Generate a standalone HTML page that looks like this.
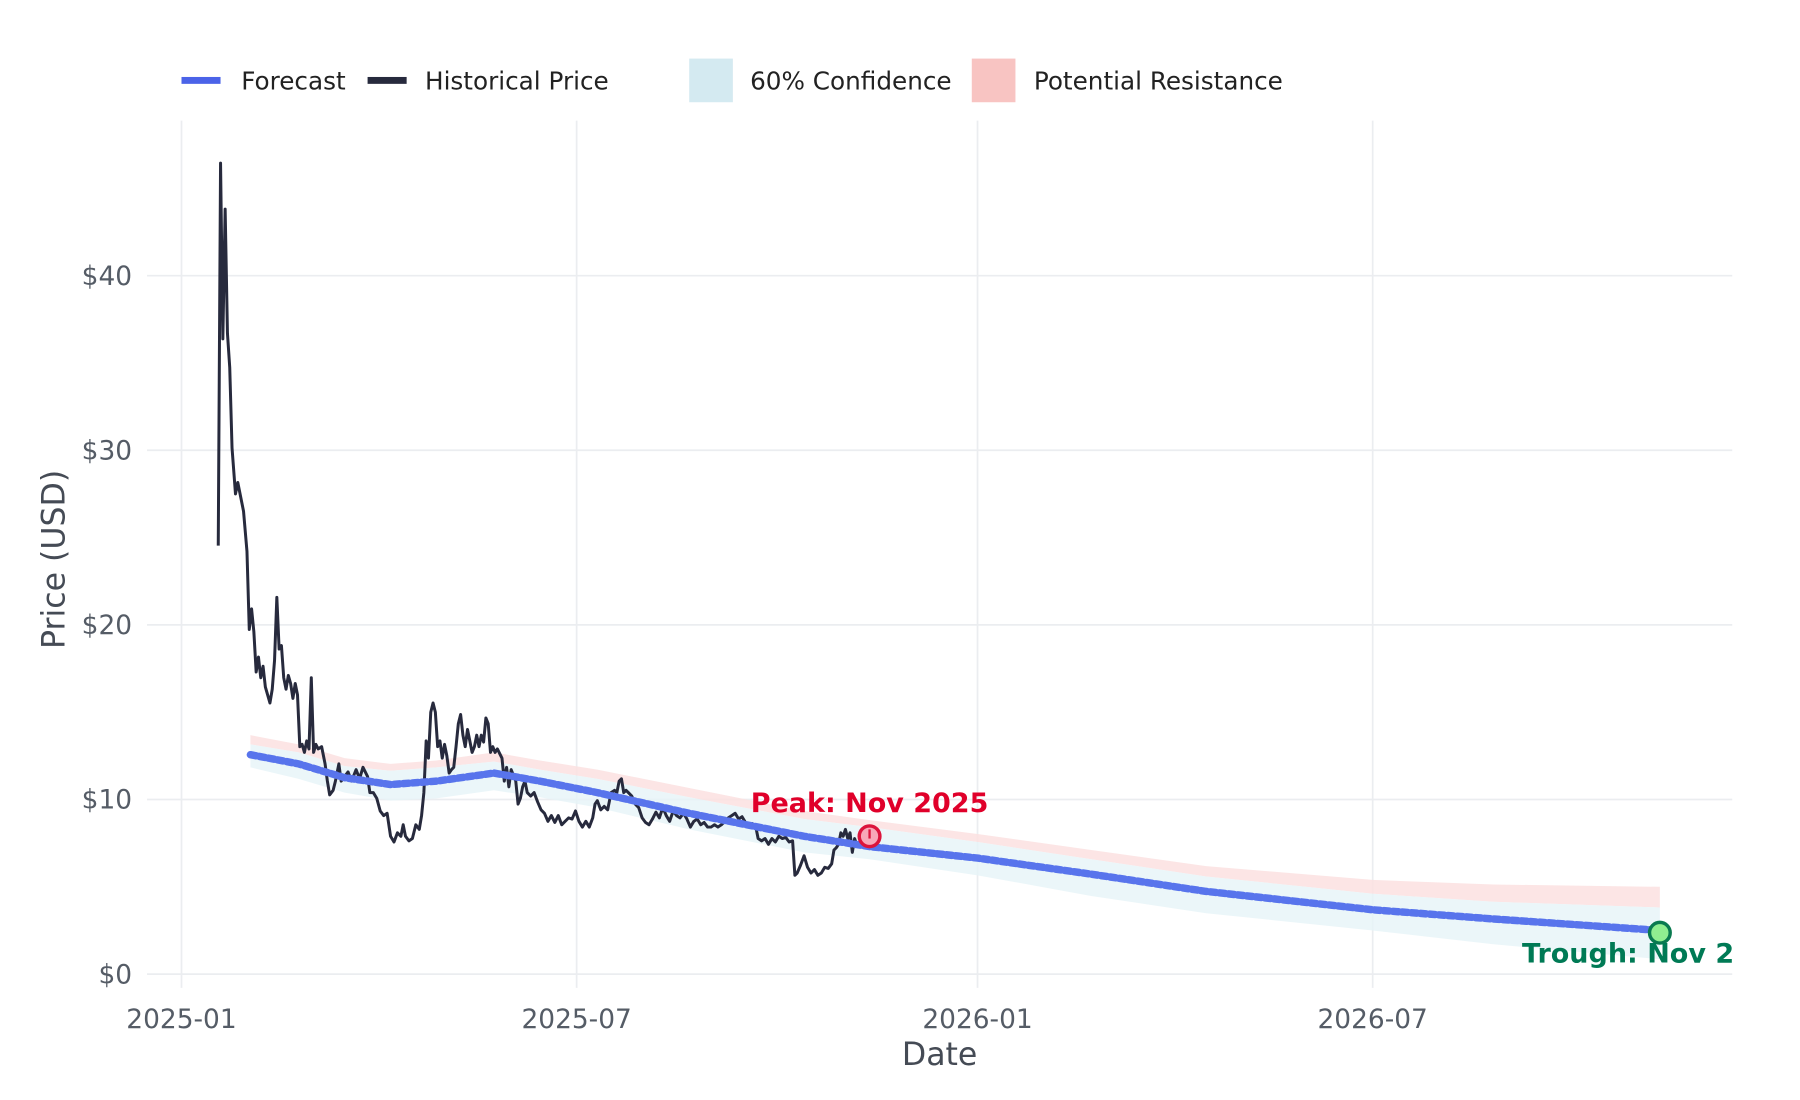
<!DOCTYPE html>
<html><head><meta charset="utf-8"><style>
html,body{margin:0;padding:0;background:#fff;width:1800px;height:1100px;overflow:hidden}
svg{display:block}
text{font-family:"DejaVu Sans","Liberation Sans",sans-serif}
</style></head><body>
<svg width="1800" height="1100" viewBox="0 0 1567 957.6" preserveAspectRatio="none" xmlns="http://www.w3.org/2000/svg">
<defs><clipPath id="pc"><rect x="128" y="100" width="1380" height="800"/></clipPath></defs>
<rect width="1567" height="957.6" fill="#fff"/>
<!-- grid -->
<g stroke="#ebedf0" stroke-width="1.5">
<line x1="158" y1="105" x2="158" y2="860"/><line x1="502" y1="105" x2="502" y2="860"/>
<line x1="851" y1="105" x2="851" y2="860"/><line x1="1195" y1="105" x2="1195" y2="860"/>
<line x1="128" y1="848" x2="1508" y2="848"/><line x1="128" y1="696" x2="1508" y2="696"/>
<line x1="128" y1="544" x2="1508" y2="544"/><line x1="128" y1="392" x2="1508" y2="392"/>
<line x1="128" y1="240" x2="1508" y2="240"/>
</g>
<!-- resistance band -->
<path d="M218,640 L260,648 L300,660 L340,665 L380,662 L430,655 L470,662 L520,670 L600,686 L700,706 L757,714 L851,726 L950,740 L1050,754 L1195,766 L1300,770 L1445,772 L1445,790 L1300,785 L1195,778 L1050,763 L950,748 L851,733 L757,720 L700,713 L600,694 L520,678 L470,670 L430,663 L380,668 L340,671 L300,667 L260,655 L218,648 Z" fill="#fbe1e1" opacity="0.85"/>
<!-- confidence band -->
<path d="M218,648 L260,655 L300,667 L340,671 L380,668 L430,663 L470,670 L520,678 L600,694 L700,713 L757,720 L851,733 L950,748 L1050,763 L1195,778 L1300,785 L1445,790 L1445,835 L1300,822 L1195,810 L1050,795 L950,780 L851,762 L757,748 L700,742 L600,722 L520,703 L470,694 L430,688 L380,695 L340,697 L300,690 L260,678 L218,668 Z" fill="#e6f4f8" opacity="0.8"/>
<!-- historical -->
<polyline fill="none" stroke="#272a3d" stroke-width="2.6" stroke-linejoin="round" points="190,475 192,142 194,295 196,182 198,290 200,320 202,390 205,430 207,420 210,435 212,445 215,480 217,548 219,530 221,550 223,585 225,572 227,590 229,580 231,598 233,605 235,612 237,600 239,575 241,520 243,565 245,562 247,590 249,600 251,588 253,595 255,608 257,595 259,605 261,650 263,648 265,655 267,645 269,652 271,590 273,655 275,648 277,652 280,650 283,665 285,680 287,692 290,688 292,680 295,665 297,680 300,676 303,672 306,680 310,670 313,678 316,668 320,676 322,690 325,690 328,695 331,706 334,710 337,708 340,728 343,733 346,725 349,728 351,718 353,728 356,732 359,730 362,718 365,722 367,710 369,690 371,645 373,660 375,620 377,612 379,620 381,650 383,645 385,660 387,648 389,658 391,673 393,670 395,668 397,650 399,630 401,622 403,640 405,650 407,635 409,645 411,655 413,650 415,640 417,650 419,640 421,646 423,625 425,630 427,655 429,650 431,655 433,652 435,656 437,660 439,680 441,668 443,685 445,670 447,675 449,680 451,700 453,695 455,685 457,680 459,690 462,693 465,690 468,698 471,705 474,708 477,715 480,710 483,716 486,710 489,718 492,715 495,712 498,713 501,706 504,715 507,720 510,715 513,720 516,712 518,700 520,697 523,705 526,702 529,705 532,690 535,688 537,690 539,680 541,678 543,690 545,688 547,690 550,693 553,700 556,703 559,712 562,716 565,718 568,713 571,707 574,712 577,703 580,710 583,715 586,706 589,710 592,712 595,708 598,713 601,720 604,715 607,713 610,718 613,716 616,720 619,720 622,718 625,720 628,718 631,715 634,712 637,710 640,708 643,713 646,711 649,716 652,720 655,717 658,720 660,730 663,732 666,730 669,735 672,730 675,733 678,728 681,730 684,729 687,733 690,732 692,762 694,760 697,753 700,745 703,755 706,760 709,757 712,762 715,760 718,755 721,756 724,752 726,740 728,738 730,735 732,725 734,728 736,722 738,730 740,725 742,742 744,730 745,733"/>
<!-- forecast -->
<path d="M218,657 L260,665 L300,677 L340,683 L380,680 L430,673 L470,680 L520,690 L600,708 L700,728 L757,737 L851,747 L950,761 L1050,776 L1195,792 L1300,800 L1445,810" fill="none" stroke="#5874ec" stroke-width="6.5" stroke-linejoin="round" stroke-linecap="round" stroke-dasharray="5 3"/>
<path d="M218,657 L260,665 L300,677 L340,683 L380,680 L430,673 L470,680 L520,690 L600,708 L700,728 L757,737 L851,747 L950,761 L1050,776 L1195,792 L1300,800 L1445,810" fill="none" stroke="#5874ec" stroke-width="4.5" stroke-linejoin="round"/>
<!-- markers -->
<circle cx="757" cy="728" r="9" fill="#f8a8b8" stroke="#dc143c" stroke-width="3"/>
<line x1="757" y1="722" x2="757" y2="730" stroke="#dc143c" stroke-width="2"/>
<text x="757" y="707" text-anchor="middle" font-size="23.5" font-weight="bold" fill="#e0002a">Peak: Nov 2025</text>
<circle cx="1445" cy="812" r="9" fill="#90ee90" stroke="#0a7a50" stroke-width="3"/>
<g clip-path="url(#pc)"><text x="1325" y="838" font-size="23.5" font-weight="bold" fill="#007a55">Trough: Nov 2026</text></g>
<!-- ticks -->
<g font-size="23" fill="#555c66" text-anchor="end">
<text x="115" y="856">$0</text><text x="115" y="704">$10</text><text x="115" y="552">$20</text><text x="115" y="400">$30</text><text x="115" y="248">$40</text>
</g>
<g font-size="23" fill="#555c66" text-anchor="middle">
<text x="158" y="895">2025-01</text><text x="502" y="895">2025-07</text><text x="851" y="895">2026-01</text><text x="1195" y="895">2026-07</text>
</g>
<text x="818" y="927" font-size="27.5" fill="#454b55" text-anchor="middle">Date</text>
<text transform="translate(56,487) rotate(-90)" font-size="27.5" fill="#454b55" text-anchor="middle">Price (USD)</text>
<!-- legend -->
<rect x="158" y="67" width="34" height="6" fill="#4b63e8"/>
<text x="210" y="78" font-size="21.5" fill="#222">Forecast</text>
<rect x="320" y="67" width="34" height="6" fill="#272a3d"/>
<text x="370" y="78" font-size="21.5" fill="#222">Historical Price</text>
<rect x="600" y="51" width="38" height="38" fill="#d4eaf1"/>
<text x="653" y="78" font-size="21.5" fill="#222">60% Confidence</text>
<rect x="846" y="51" width="38" height="38" fill="#f8c4c2"/>
<text x="900" y="78" font-size="21.5" fill="#222">Potential Resistance</text>
</svg>
</body></html>
